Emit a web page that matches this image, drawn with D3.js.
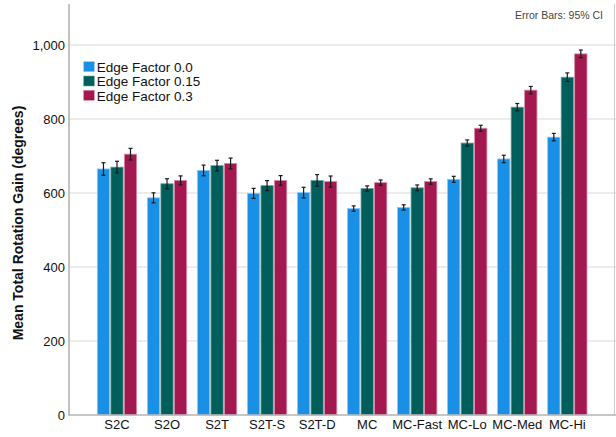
<!DOCTYPE html>
<html>
<head>
<meta charset="utf-8">
<script src="https://cdn.jsdelivr.net/npm/d3@7"></script>
<style>
  html, body { margin: 0; padding: 0; background: #fff; }
  svg { display: block; font-family: "Liberation Sans", Arial, sans-serif; }
</style>
</head>
<body>
<svg id="chart" width="616" height="437"></svg>
<script>
const categories = ["S2C", "S2O", "S2T", "S2T-S", "S2T-D", "MC", "MC-Fast", "MC-Lo", "MC-Med", "MC-Hi"];
const seriesNames = ["Edge Factor 0.0", "Edge Factor 0.15", "Edge Factor 0.3"];
const seriesColors = ["#1990e6", "#005f5b", "#a2184f"];
const seriesStroke = ["#8fc9f3", "#6fa6a3", "#d98aa8"];
const means00 = [665, 587, 661, 599, 601, 558, 561, 637, 692, 751];
const means015 = [670, 625, 674, 620, 634, 612, 614, 735, 832, 913];
const means03 = [705, 634, 680, 634, 631, 628, 631, 775, 878, 976];
const ci00 = [16.8, 13.5, 14.4, 13.5, 14.4, 7.2, 7.2, 8.1, 10, 10];
const ci015 = [15.8, 13.5, 14.4, 13.5, 15.8, 7.2, 7.7, 8.5, 9.9, 11.6];
const ci03 = [15.7, 12.2, 14.4, 13, 14.9, 7.2, 7.2, 8.1, 10, 10.4];
const yTicks = [0, 200, 400, 600, 800, 1000];

const means = [means00, means015, means03];
const cis = [ci00, ci015, ci03];

const svg = d3.select("#chart");
const axisX = 69, plotRight = 616, plotTop = 4;

const y = d3.scaleLinear().domain([0, 1000]).range([415, 45]);
const x = d3.scaleBand().domain(categories).range([91.97, 592.33]).paddingInner(0.19).paddingOuter(0.095);
const sub = d3.scaleBand().domain(d3.range(3)).range([0, x.bandwidth()]).padding(0);

// gridlines
svg.append("g").selectAll("line").data(yTicks.filter(d => d > 0)).join("line")
  .attr("x1", axisX).attr("x2", plotRight)
  .attr("y1", d => y(d)).attr("y2", d => y(d))
  .attr("stroke", "#d9d9d9").attr("stroke-width", 1.2);

// right frame
svg.append("line").attr("x1", 614.5).attr("x2", 614.5).attr("y1", plotTop).attr("y2", y(0))
  .attr("stroke", "#cccccc").attr("stroke-width", 1);

// bars
const data = [];
categories.forEach((c, i) => {
  for (let k = 0; k < 3; k++) data.push({ c, k, v: means[k][i], e: cis[k][i] });
});

const g = svg.append("g");
g.selectAll("rect").data(data).join("rect")
  .attr("x", d => x(d.c) + sub(d.k) + 0.6)
  .attr("width", sub.bandwidth() - 1.2)
  .attr("y", d => y(d.v))
  .attr("height", d => y(0) - y(d.v))
  .attr("fill", d => seriesColors[d.k])
  .attr("stroke", d => seriesStroke[d.k])
  .attr("stroke-width", 0.8);

// error bars
const eb = svg.append("g").attr("stroke", "#1a1a1a").attr("stroke-width", 1.2);
data.forEach(d => {
  const cx = x(d.c) + sub(d.k) + sub.bandwidth() / 2;
  eb.append("line").attr("x1", cx).attr("x2", cx).attr("y1", y(d.v + d.e)).attr("y2", y(d.v - d.e));
  eb.append("line").attr("x1", cx - 2).attr("x2", cx + 2).attr("y1", y(d.v + d.e)).attr("y2", y(d.v + d.e));
  eb.append("line").attr("x1", cx - 2).attr("x2", cx + 2).attr("y1", y(d.v - d.e)).attr("y2", y(d.v - d.e));
});

// axes lines
svg.append("line").attr("x1", axisX).attr("x2", axisX).attr("y1", plotTop).attr("y2", y(0) + 0.8)
  .attr("stroke", "#b4b4b4").attr("stroke-width", 1.6);
svg.append("line").attr("x1", axisX).attr("x2", plotRight).attr("y1", y(0)).attr("y2", y(0))
  .attr("stroke", "#b4b4b4").attr("stroke-width", 1.6);

// y axis ticks via d3 axis
const yAxis = svg.append("g").attr("transform", `translate(${axisX},0)`)
  .call(d3.axisLeft(y).tickValues(yTicks).tickFormat(d3.format(",")).tickSize(0).tickPadding(4));
yAxis.select(".domain").remove();
yAxis.selectAll("text").attr("font-size", 13).attr("fill", "#111").attr("font-family", "Liberation Sans, Arial, sans-serif");

const xAxis = svg.append("g").attr("transform", `translate(0,${y(0)})`)
  .call(d3.axisBottom(x).tickSize(0).tickPadding(5));
xAxis.select(".domain").remove();
xAxis.selectAll("text").attr("font-size", 13).attr("fill", "#111").attr("font-family", "Liberation Sans, Arial, sans-serif");

// y title
svg.append("text")
  .attr("transform", "translate(23,223) rotate(-90)")
  .attr("text-anchor", "middle")
  .attr("font-size", 14).attr("font-weight", "bold").attr("fill", "#111")
  .text("Mean Total Rotation Gain (degrees)");

// error bar note
svg.append("text").attr("x", 603).attr("y", 19).attr("text-anchor", "end")
  .attr("font-size", 10.5).attr("fill", "#444").text("Error Bars: 95% CI");

// legend
const leg = svg.append("g");
seriesNames.forEach((n, k) => {
  const yy = 61.7 + k * 14.3;
  leg.append("rect").attr("x", 83.7).attr("y", yy).attr("width", 10.6).attr("height", 10)
    .attr("fill", seriesColors[k]).attr("stroke", seriesStroke[k]).attr("stroke-width", 0.6);
  leg.append("text").attr("x", 96.7).attr("y", yy + 10.3).attr("font-size", 13.5).attr("fill", "#111").text(n);
});
</script>
</body>
</html>
